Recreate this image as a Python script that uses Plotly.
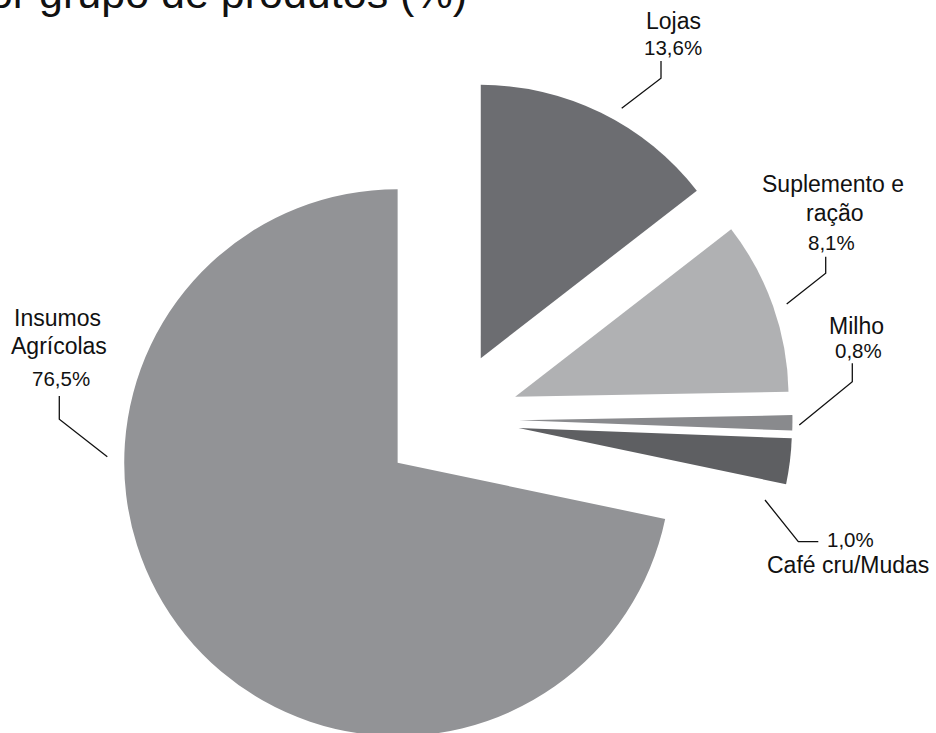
import plotly.graph_objects as go

# ---- data ----
categories = ["Lojas", "Suplemento e ração", "Milho", "Café cru/Mudas", "Insumos Agrícolas"]
# slice shares as drawn in the picture (angular size of each wedge, %)
slice_shares = [14.5, 10.2, 0.9, 2.7, 71.7]
# percentages printed next to each slice
printed_pct = ["13,6%", "8,1%", "0,8%", "1,0%", "76,5%"]
title_text = "por grupo de produtos (%)"

# ---- styling ----
W, H = 936, 762
colors = ["#6c6d71", "#b0b1b3", "#898a8d", "#5e5f62", "#929396"]
FONT = "Arial, Liberation Sans, sans-serif"
NAME_SIZE = 23
PCT_SIZE = 20.5
TITLE_SIZE = 43

# pie frame (pixels): centre and outer radius
cx, cy, r, pull = 450.7, 419.6, 273.4, 0.25
half = r * (1 + pull)

def px(x):
    return x / W

def py(y):
    return 1 - y / H

fig = go.Figure(go.Pie(
    labels=categories,
    values=slice_shares,
    sort=False,
    direction="clockwise",
    rotation=0,
    pull=[pull] * len(categories),
    marker=dict(colors=colors, line=dict(width=0)),
    textinfo="none",
    hoverinfo="label+percent",
    showlegend=False,
    domain=dict(x=[px(cx - half), px(cx + half)],
                y=[py(cy + half), py(cy - half)]),
))

# label layout: (text, centre x, baseline y, size, xanchor)
label_layout = [
    (categories[0], 673, 28.5, NAME_SIZE, "center"),
    (printed_pct[0], 673, 55, PCT_SIZE, "center"),
    ("Suplemento e", 832.5, 191.7, NAME_SIZE, "center"),
    ("ração", 835, 221, NAME_SIZE, "center"),
    (printed_pct[1], 831, 249.3, PCT_SIZE, "center"),
    (categories[2], 856.7, 334, NAME_SIZE, "center"),
    (printed_pct[2], 858, 357.5, PCT_SIZE, "center"),
    (printed_pct[3], 826.7, 546.7, PCT_SIZE, "left"),
    (categories[3], 848.3, 573.3, NAME_SIZE, "center"),
    ("Insumos", 57, 326, NAME_SIZE, "center"),
    ("Agrícolas", 59, 354.3, NAME_SIZE, "center"),
    (printed_pct[4], 61.2, 385.7, PCT_SIZE, "center"),
]

annotations = []
for text, x, base, size, xa in label_layout:
    annotations.append(dict(
        text=text, x=px(x), y=py(base - 0.3465 * size), xref="paper", yref="paper",
        xanchor=xa, yanchor="middle", showarrow=False, borderpad=0, borderwidth=0,
        font=dict(family=FONT, size=size, color="#111111"),
    ))

# cut-off title at the top-left
annotations.append(dict(
    text=title_text, x=px(467), y=py(8 - 0.3465 * TITLE_SIZE), xref="paper", yref="paper",
    xanchor="right", yanchor="middle", showarrow=False, borderpad=0, borderwidth=0,
    font=dict(family=FONT, size=TITLE_SIZE, color="#111111"),
))

leaders = [
    [(621.7, 108.3), (661, 78.3), (661, 61)],
    [(786.7, 304), (825.7, 273.3), (825.7, 256.7)],
    [(799.3, 425), (852.3, 381.7), (852.3, 363.3)],
    [(765, 500), (798.3, 541.7), (818.3, 541.7)],
    [(107.3, 456.7), (59.3, 419.3), (59.3, 396)],
]
shapes = []
for pts in leaders:
    path = "M " + " L ".join(f"{px(x):.5f},{py(y):.5f}" for x, y in pts)
    shapes.append(dict(type="path", path=path, xref="paper", yref="paper",
                       line=dict(color="#111111", width=1.3)))

fig.update_layout(
    width=W, height=H,
    margin=dict(l=0, r=0, t=0, b=0),
    paper_bgcolor="white", plot_bgcolor="white",
    annotations=annotations, shapes=shapes,
    font=dict(family=FONT),
)

fig.write_html(
    "out.html",
    config={"displayModeBar": False},
    post_script="document.body.style.margin='0px';document.body.style.overflow='hidden';",
)
